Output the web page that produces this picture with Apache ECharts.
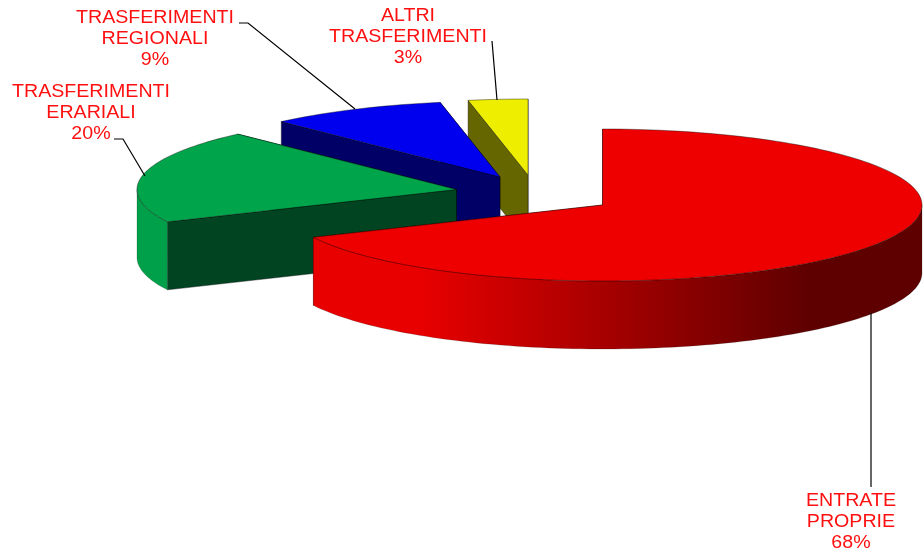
<!DOCTYPE html>
<html>
<head>
<meta charset="utf-8">
<style>html,body{margin:0;padding:0;background:#fff}#c{width:923px;height:555px}</style>
<script src="https://cdn.jsdelivr.net/npm/echarts@6/dist/echarts.min.js"></script>
</head>
<body>
<div id="c"></div>
<script>
// Data
const categories = ['ENTRATE\nPROPRIE', 'TRASFERIMENTI\nERARIALI', 'TRASFERIMENTI\nREGIONALI', 'ALTRI\nTRASFERIMENTI'];
const values = [68, 20, 9, 3];

// Styles and layout (separate from the data)
const topColors = ['#ee0000', '#00a44a', '#0000ee', '#eeee00'];
const wallColors = ['#ee0000', '#004422', '#000066', '#666600'];
const RX = 319.5, RY = 76, DEPTH = 68;
const centers = [[602.5, 205], [456.5, 189.5], [500, 177], [528, 175]];
const labelAt = [[851, 522], [91, 113], [155, 39], [408, 37]];
const leaders = [
  [[871, 313], [871, 487]],
  [[114, 139], [123, 139], [145, 176]],
  [[239, 23], [248, 23], [355, 109]],
  [[492, 41], [497, 100]]
];
const total = values.reduce((a, b) => a + b, 0);
const rad = d => d * Math.PI / 180;

function rimPoint(c, t, dy) {
  return [c[0] + RX * Math.sin(rad(t)), c[1] - RY * Math.cos(rad(t)) + (dy || 0)];
}
function arc(c, a, b, dy) {
  const pts = [], n = Math.max(2, Math.ceil(Math.abs(b - a) / 1.5));
  for (let k = 0; k <= n; k++) pts.push(rimPoint(c, a + (b - a) * k / n, dy));
  return pts;
}
const edge = { stroke: 'rgba(0,0,0,0.65)', lineWidth: 0.6 };

function renderItem(params, api) {
  const i = params.dataIndex;
  const value = api.value(0);
  let start = 0;
  for (let k = 0; k < i; k++) start += values[k];
  const a = start / total * 360, b = (start + value) / total * 360;
  const c = centers[i];
  const base = (values.length - i) * 10;
  const children = [];
  const radial = t => {
    const p = rimPoint(c, t);
    return [c, p, [p[0], p[1] + DEPTH], [c[0], c[1] + DEPTH]];
  };
  children.push({ type: 'polygon', z2: base, shape: { points: radial(b) },
    style: Object.assign({ fill: wallColors[i] }, edge) });
  children.push({ type: 'polygon', z2: base + 1, shape: { points: radial(a) },
    style: Object.assign({ fill: wallColors[i] }, edge) });
  const r0 = Math.max(a, 90), r1 = Math.min(b, 270);
  if (r1 > r0) {
    const fill = i === 0
      ? { type: 'linear', x: 420, y: 0, x2: 810, y2: 0, global: true,
          colorStops: [{ offset: 0, color: '#e80000' }, { offset: 1, color: '#5e0000' }] }
      : i === 1 ? '#00a04a' : topColors[i];
    children.push({ type: 'polygon', z2: base + 2,
      shape: { points: arc(c, r0, r1, 0).concat(arc(c, r1, r0, DEPTH)) },
      style: { fill: fill, stroke: 'rgba(0,0,0,0.35)', lineWidth: 0.5 } });
  }
  children.push({ type: 'polygon', z2: base + 3,
    shape: { points: [c].concat(arc(c, a, b, 0)) },
    style: Object.assign({ fill: topColors[i] }, edge) });
  children.push({ type: 'polyline', z2: 100, shape: { points: leaders[i] },
    style: { stroke: '#000', lineWidth: 1.2, fill: null } });
  children.push({ type: 'text', z2: 101, x: labelAt[i][0], y: labelAt[i][1], scaleX: 1.09,
    style: { text: categories[i] + '\n' + value + '%', x: 0, y: 0, fill: '#ff1010',
      font: '18px "Liberation Sans"', lineHeight: 21.3, align: 'center', verticalAlign: 'middle' } });
  return { type: 'group', children: children };
}

const chart = echarts.init(document.getElementById('c'));
chart.setOption({
  backgroundColor: '#ffffff',
  animation: false,
  series: [{
    type: 'custom',
    coordinateSystem: 'none',
    renderItem: renderItem,
    data: values.map((v, i) => ({ name: categories[i], value: [v] }))
  }]
});
</script>
</body>
</html>
